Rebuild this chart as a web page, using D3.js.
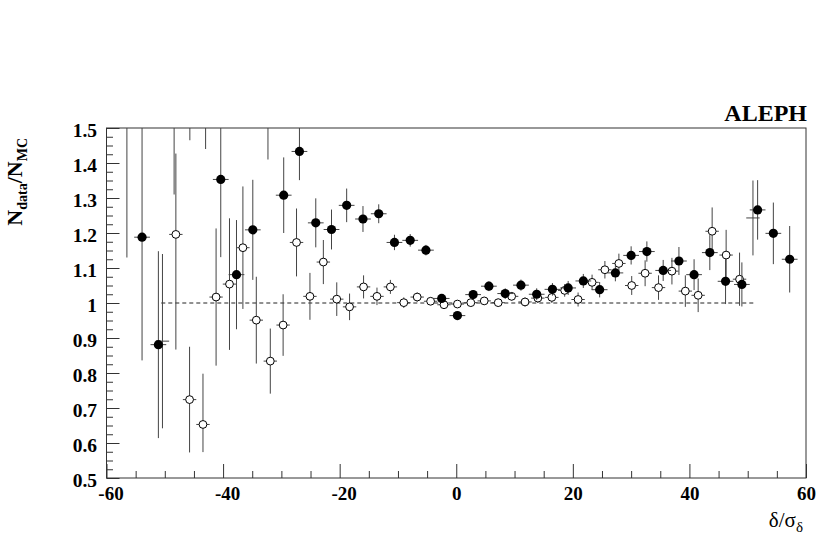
<!DOCTYPE html>
<html>
<head>
<meta charset="utf-8">
<script src="https://cdn.jsdelivr.net/npm/d3@7"></script>
<style>
  html, body { margin: 0; padding: 0; background: #fff; }
  svg { display: block; }
  text { font-family: "Liberation Serif", "Times New Roman", serif; }
</style>
</head>
<body>
<svg id="chart" width="818" height="540"></svg>
<script>
// ---------------- data ----------------
// filled markers (solid circles)
const filledX = [-56.5, -53.9, -51.1, -48.4, -45.7, -43.0, -40.4, -37.7, -34.9, -32.3, -29.6, -26.9, -24.1, -21.4, -18.8, -16.0, -13.3, -10.6, -7.9, -5.2, -2.5, 0.2, 2.9, 5.6, 8.4, 11.1, 13.8, 16.5, 19.2, 21.8, 24.6, 27.3, 30.0, 32.7, 35.5, 38.2, 40.8, 43.5, 46.2, 49.0, 51.7, 54.4, 57.2];
const filledY = [1.62, 1.188, 0.881, 1.58, 1.62, 1.60, 1.353, 1.081, 1.209, 1.55, 1.308, 1.433, 1.229, 1.210, 1.279, 1.240, 1.255, 1.173, 1.179, 1.151, 1.013, 0.964, 1.024, 1.048, 1.027, 1.051, 1.025, 1.039, 1.043, 1.063, 1.038, 1.086, 1.136, 1.147, 1.093, 1.120, 1.081, 1.144, 1.062, 1.053, 1.266, 1.199, 1.125];
const filledErrLow = [0.49, 0.352, 0.267, 0.27, 0.155, 0.16, 0.222, 0.156, 0.143, 0.14, 0.108, 0.082, 0.070, 0.057, 0.048, 0.037, 0.027, 0.022, 0.018, 0.015, 0.012, 0.010, 0.013, 0.014, 0.015, 0.016, 0.017, 0.018, 0.020, 0.020, 0.022, 0.024, 0.026, 0.029, 0.030, 0.040, 0.044, 0.050, 0.065, 0.063, 0.085, 0.088, 0.095];
const filledErrHigh = [0.49, 0.352, 0.267, 0.27, 0.155, 0.16, 0.222, 0.156, 0.143, 0.14, 0.108, 0.082, 0.070, 0.057, 0.048, 0.037, 0.027, 0.022, 0.018, 0.015, 0.012, 0.010, 0.013, 0.014, 0.015, 0.016, 0.017, 0.018, 0.020, 0.020, 0.022, 0.024, 0.026, 0.029, 0.030, 0.040, 0.044, 0.050, 0.065, 0.063, 0.085, 0.088, 0.095];
const filledHalfBin = 1.35;

// open markers (hollow circles)
const openX = [-48.1, -45.75, -43.45, -41.2, -38.9, -36.6, -34.3, -31.9, -29.7, -27.4, -25.1, -22.8, -20.5, -18.3, -15.9, -13.6, -11.3, -9.0, -6.7, -4.4, -2.1, 0.2, 2.5, 4.8, 7.2, 9.5, 11.8, 14.0, 16.4, 18.6, 20.9, 23.3, 25.5, 27.9, 30.1, 32.4, 34.7, 37.0, 39.3, 41.5, 43.9, 46.3, 48.6];
const openY = [1.196, 0.724, 0.653, 1.017, 1.054, 1.158, 0.951, 0.834, 0.937, 1.173, 1.019, 1.117, 1.011, 0.989, 1.046, 1.019, 1.046, 1.001, 1.017, 1.005, 0.995, 0.997, 1.001, 1.006, 1.001, 1.019, 1.003, 1.014, 1.016, 1.036, 1.010, 1.059, 1.095, 1.113, 1.050, 1.085, 1.044, 1.091, 1.034, 1.022, 1.205, 1.137, 1.068];
const openErrLow = [0.329, 0.151, 0.079, 0.196, 0.188, 0.175, 0.124, 0.093, 0.088, 0.097, 0.067, 0.063, 0.048, 0.038, 0.033, 0.025, 0.020, 0.015, 0.013, 0.011, 0.010, 0.008, 0.009, 0.010, 0.011, 0.012, 0.013, 0.014, 0.016, 0.018, 0.020, 0.022, 0.025, 0.028, 0.027, 0.037, 0.035, 0.038, 0.045, 0.048, 0.068, 0.072, 0.076];
const openErrHigh = [0.231, 0.151, 0.145, 0.196, 0.188, 0.175, 0.124, 0.093, 0.088, 0.097, 0.067, 0.063, 0.048, 0.038, 0.033, 0.025, 0.020, 0.015, 0.013, 0.011, 0.010, 0.008, 0.009, 0.010, 0.011, 0.012, 0.013, 0.014, 0.016, 0.018, 0.020, 0.022, 0.025, 0.028, 0.027, 0.037, 0.035, 0.038, 0.045, 0.048, 0.068, 0.072, 0.076];
const openHalfBin = 1.15;

// error crosses drawn without a marker (open series end bins)
const bareX = [-50.4, 50.9];
const bareY = [0.891, 1.243];
const bareErr = [0.249, 0.107];

// axes
const xDomain = [-60, 60];
const yDomain = [0.5, 1.5];
const xMajorTicks = [-60, -40, -20, 0, 20, 40, 60];
const yMajorTicks = [0.5, 0.6, 0.7, 0.8, 0.9, 1.0, 1.1, 1.2, 1.3, 1.4, 1.5];
const referenceLine = { from: -50.6, to: 51.2, value: 1.0 };

// ---------------- drawing ----------------
const svg = d3.select("#chart");
const L = 106.5, R = 806, T = 128, B = 478;
const x = d3.scaleLinear().domain(xDomain).range([L, R]);
const y = d3.scaleLinear().domain(yDomain).range([B, T]);

svg.append("rect").attr("width", 818).attr("height", 540).attr("fill", "#fff");

svg.append("defs").append("clipPath").attr("id", "plotclip")
  .append("rect").attr("x", L).attr("y", T).attr("width", R - L).attr("height", B - T);

const axisColor = "#333";

// minor ticks
const xMinor = d3.range(-60, 60.001, 5).filter(v => !xMajorTicks.includes(v));
const yMinor = d3.range(0, 41).map(i => +(0.5 + i * 0.025).toFixed(3)).filter(v => !yMajorTicks.some(t => Math.abs(t - v) < 1e-6));

const gxMinor = svg.append("g").attr("transform", `translate(0,${B})`)
  .call(d3.axisBottom(x).tickValues(xMinor).tickSizeInner(-7).tickSizeOuter(0).tickFormat(""));
const gyMinor = svg.append("g").attr("transform", `translate(${L},0)`)
  .call(d3.axisLeft(y).tickValues(yMinor).tickSizeInner(-6.5).tickSizeOuter(0).tickFormat(""));

const gx = svg.append("g").attr("transform", `translate(0,${B})`)
  .call(d3.axisBottom(x).tickValues(xMajorTicks).tickSizeInner(-14).tickSizeOuter(0).tickPadding(9)
    .tickFormat(d => String(d)));
const gy = svg.append("g").attr("transform", `translate(${L},0)`)
  .call(d3.axisLeft(y).tickValues(yMajorTicks).tickSizeInner(-13).tickSizeOuter(0).tickPadding(9.5)
    .tickFormat(d => String(+d.toFixed(1))));

[gxMinor, gyMinor, gx, gy].forEach(g => {
  g.select(".domain").remove();
  g.selectAll(".tick line").attr("stroke", axisColor).attr("stroke-width", 1);
});
gx.selectAll(".tick text")
  .attr("font-family", "'Liberation Serif', serif").attr("font-weight", "bold")
  .attr("font-size", 19).attr("fill", "#000")
  .attr("dx", d => d < 0 ? 4 : 0);
gy.selectAll(".tick text")
  .attr("font-family", "'Liberation Serif', serif").attr("font-weight", "bold")
  .attr("font-size", 19.5).attr("fill", "#000").attr("dy", "0.45em");

// frame
svg.append("rect").attr("x", L).attr("y", T).attr("width", R - L).attr("height", B - T)
  .attr("fill", "none").attr("stroke", axisColor).attr("stroke-width", 1);

const plot = svg.append("g").attr("clip-path", "url(#plotclip)");

// reference line
plot.append("line")
  .attr("x1", x(referenceLine.from)).attr("x2", x(referenceLine.to))
  .attr("y1", y(referenceLine.value)).attr("y2", y(referenceLine.value))
  .attr("stroke", "#222").attr("stroke-width", 1).attr("stroke-dasharray", "4,3");

const barColor = "#444";
function drawBars(g, xs, ys, lo, hi, hw) {
  const pts = xs.map((xv, i) => ({ x: xv, y: ys[i], lo: lo[i], hi: hi[i] }));
  g.selectAll(null).data(pts).enter().append("line")
    .attr("x1", d => x(d.x)).attr("x2", d => x(d.x))
    .attr("y1", d => y(d.y - d.lo)).attr("y2", d => y(d.y + d.hi))
    .attr("stroke", barColor).attr("stroke-width", 1);
  g.selectAll(null).data(pts).enter().append("line")
    .attr("x1", d => x(d.x - hw)).attr("x2", d => x(d.x + hw))
    .attr("y1", d => y(d.y)).attr("y2", d => y(d.y))
    .attr("stroke", barColor).attr("stroke-width", 1);
  return pts;
}

const bareG = plot.append("g");
drawBars(bareG, bareX, bareY, bareErr, bareErr, openHalfBin);

const openG = plot.append("g");
const openPts = drawBars(openG, openX, openY, openErrLow, openErrHigh, openHalfBin);
const filledG = plot.append("g");
const filledPts = drawBars(filledG, filledX, filledY, filledErrLow, filledErrHigh, filledHalfBin);

openG.selectAll("circle").data(openPts).enter().append("circle")
  .attr("cx", d => x(d.x)).attr("cy", d => y(d.y)).attr("r", 3.9)
  .attr("fill", "#fff").attr("stroke", "#000").attr("stroke-width", 1);
filledG.selectAll("circle").data(filledPts).enter().append("circle")
  .attr("cx", d => x(d.x)).attr("cy", d => y(d.y)).attr("r", 4.6)
  .attr("fill", "#000");

// ALEPH label
svg.append("text").attr("x", 807).attr("y", 121).attr("text-anchor", "end")
  .attr("font-weight", "bold").attr("font-size", 24).attr("fill", "#000")
  .text("ALEPH");

// x axis title: δ/σ_δ
const xt = svg.append("text").attr("x", 803).attr("y", 527).attr("text-anchor", "end")
  .attr("font-size", 21).attr("fill", "#000");
xt.append("tspan").text("δ/σ");
xt.append("tspan").attr("font-size", 15).attr("dy", 5).text("δ");

// y axis title: N_data/N_MC
const yt = svg.append("text")
  .attr("transform", "translate(22,138) rotate(-90)")
  .attr("text-anchor", "end").attr("font-weight", "bold").attr("font-size", 22).attr("fill", "#000");
yt.append("tspan").text("N");
yt.append("tspan").attr("font-size", 14).attr("dy", 5).text("data");
yt.append("tspan").attr("dy", -5).text("/N");
yt.append("tspan").attr("font-size", 14).attr("dy", 5).text("MC");
</script>
</body>
</html>
